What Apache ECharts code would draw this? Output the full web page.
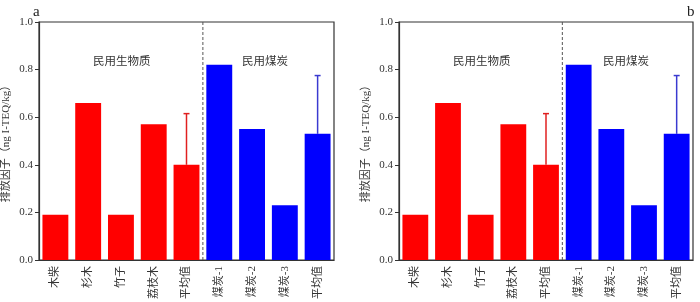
<!DOCTYPE html>
<html><head><meta charset="utf-8">
<script src="https://cdn.jsdelivr.net/npm/echarts@6/dist/echarts.min.js"></script>
<style>html,body{margin:0;padding:0;background:#fff}#c{width:700px;height:302px}</style>
</head><body><div id="c"></div>
<script>
var categories = ['木柴','杉木','竹子','荔枝木','平均值','煤炭-1','煤炭-2','煤炭-3','平均值'];
var values = [0.19, 0.66, 0.19, 0.57, 0.40, 0.82, 0.55, 0.23, 0.53];
var errUpper = [null, null, null, null, 0.615, null, null, null, 0.775];
var groupColors = ['#ff0000','#ff0000','#ff0000','#ff0000','#ff0000','#0000ff','#0000ff','#0000ff','#0000ff'];
var errColors = {4:'#e02020', 8:'#3a3ad0'};
var yTicks = [0, 0.2, 0.4, 0.6, 0.8, 1.0];
var groupLabels = ['民用生物质','民用煤炭'];
var panelLabels = ['a','b'];
var yTitle = '排放因子（ng I-TEQ/kg）';

var serif = '"Liberation Serif","Noto Sans CJK SC",serif';
var grids = [
  {left: 38, right: 366, top: 22, bottom: 42, show: true, borderColor: '#333', borderWidth: 1.2},
  {left: 399, right: 7, top: 22, bottom: 42, show: true, borderColor: '#333', borderWidth: 1.2}
];
var xAxes = [], yAxes = [], series = [];
[0,1].forEach(function(i){
  xAxes.push({type:'category', gridIndex:i, data:categories,
    axisLine:{lineStyle:{color:'#333', width:1.2}},
    axisTick:{alignWithLabel:true, length:4, lineStyle:{color:'#333'}},
    axisLabel:{rotate:90, color:'#333', fontSize:11, fontFamily:serif, margin:6}});
  yAxes.push({type:'value', gridIndex:i, min:yTicks[0], max:yTicks[yTicks.length-1], interval:0.2,
    name: yTitle,
    nameLocation:'middle', nameGap: 27, nameRotate: 90,
    nameTextStyle:{fontSize:11, color:'#333', fontFamily:serif},
    splitLine:{show:false},
    axisLine:{show:true, lineStyle:{color:'#333', width:1.2}},
    axisTick:{show:true, length:4, lineStyle:{color:'#333'}},
    axisLabel:{color:'#333', fontSize:11, fontFamily:serif, margin:6,
      formatter:function(v){return v.toFixed(1);}}});
  series.push({type:'bar', xAxisIndex:i, yAxisIndex:i, barCategoryGap:'21%',
    data: values.map(function(v,k){return {value:v, itemStyle:{color:groupColors[k]}};}),
    z:2});
  series.push({type:'custom', xAxisIndex:i, yAxisIndex:i, z:3,
    data: values.map(function(v,k){return [k, v, errUpper[k]];}).filter(function(d){return d[2]!==null;}),
    renderItem:function(params, api){
      var k = api.value(0);
      var p0 = api.coord([k, api.value(1)]);
      var p1 = api.coord([k, api.value(2)]);
      var col = errColors[k];
      return {type:'group', children:[
        {type:'line', shape:{x1:p0[0],y1:p0[1],x2:p1[0],y2:p1[1]}, style:{stroke:col, lineWidth:1.5}},
        {type:'line', shape:{x1:p1[0]-3,y1:p1[1],x2:p1[0]+3,y2:p1[1]}, style:{stroke:col, lineWidth:1.5}}
      ]};
    }});
  series.push({type:'custom', xAxisIndex:i, yAxisIndex:i, z:1,
    data:[[4,5]],
    renderItem:function(params, api){
      var a = api.coord([api.value(0), 0]);
      var b = api.coord([api.value(1), 1.0]);
      var x = (a[0]+b[0])/2;
      return {type:'line', shape:{x1:x,y1:a[1],x2:x,y2:b[1]},
        style:{stroke:'#555', lineWidth:1, lineDash:[3,2]}};
    }});
});
var gl = {fontSize:11.5, fill:'#333', fontFamily:serif};
var graphic = [
  {type:'text', left:93, top:56, style:Object.assign({text:groupLabels[0]}, gl)},
  {type:'text', left:242, top:56, style:Object.assign({text:groupLabels[1]}, gl)},
  {type:'text', left:453, top:56, style:Object.assign({text:groupLabels[0]}, gl)},
  {type:'text', left:603, top:56, style:Object.assign({text:groupLabels[1]}, gl)},
  {type:'text', left:33, top:5, style:{text:panelLabels[0], fontSize:15, fill:'#222', fontFamily:serif}},
  {type:'text', left:687, top:5, style:{text:panelLabels[1], fontSize:15, fill:'#222', fontFamily:serif}}
];
var chart = echarts.init(document.getElementById('c'));
chart.setOption({animation:false, grid:grids, xAxis:xAxes, yAxis:yAxes, series:series, graphic:graphic});
</script></body></html>
